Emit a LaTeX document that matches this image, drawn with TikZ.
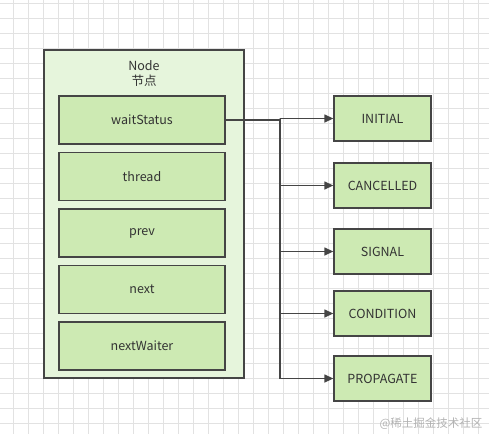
\documentclass[tikz,border=0pt]{standalone}
\usepackage{fontspec}
\setmainfont{Noto Sans CJK SC}
\usepackage{xcolor}
\usetikzlibrary{arrows.meta}

\definecolor{gridgray}{HTML}{E2E2E2}
\definecolor{outergreen}{HTML}{E6F5DC}
\definecolor{innergreen}{HTML}{CDEAB3}
\definecolor{edgegray}{HTML}{454545}
\definecolor{textgray}{HTML}{333333}

\tikzset{
    outerbox/.style={draw=edgegray, fill=outergreen, line width=1.3pt, minimum width=200pt, minimum height=328pt},
    fieldbox/.style={draw=edgegray, fill=innergreen, line width=1.3pt, minimum width=166pt, minimum height=48pt, text=textgray, font=\fontsize{12.5}{14}\selectfont},
    statebox/.style={draw=edgegray, fill=innergreen, line width=1.3pt, minimum width=97pt, minimum height=45pt, text=textgray, font=\fontsize{12.5}{14}\selectfont},
    link/.style={draw=edgegray, line width=1.3pt},
    arrowlink/.style={link, -{Triangle[length=9pt,width=8pt]}}
}

\begin{document}
\begin{tikzpicture}[x=1pt,y=-1pt]
    \useasboundingbox (0,0) rectangle (489,434);

    % background grid
    \foreach \x in {13.3,28.3,...,488} {
        \draw[gridgray, line width=0.6pt] (\x,0) -- (\x,434);
    }
    \foreach \y in {3.3,18.3,...,433} {
        \draw[gridgray, line width=0.6pt] (0,\y) -- (489,\y);
    }

    % Node box
    \node[outerbox] (node) at (144,214) {};
    \node[text=textgray, align=center, font=\fontsize{12.5}{15}\selectfont] (title) at (144,74) {Node\\节点};

    % fields
    \node[fieldbox] (waitStatus) at (142,120) {waitStatus};
    \node[fieldbox] (thread) at (142,176.5) {thread};
    \node[fieldbox] (prev) at (142,233) {prev};
    \node[fieldbox] (next) at (142,289.5) {next};
    \node[fieldbox] (nextWaiter) at (142,346) {nextWaiter};

    % states
    \node[statebox] (initial) at (382.5,118.5) {INITIAL};
    \node[statebox] (cancelled) at (382.5,185.5) {CANCELLED};
    \node[statebox] (signal) at (382.5,251.5) {SIGNAL};
    \node[statebox] (condition) at (382.5,313.5) {CONDITION};
    \node[statebox] (propagate) at (382.5,378.5) {PROPAGATE};

    % connectors
    \coordinate (join) at (280,120);
    \coordinate (trunkTop) at (280,118.5);
    \coordinate (trunkEnd) at (280,378.5);
    \draw[link] (waitStatus.east) -- (join);
    \draw[link] (join) -- (trunkTop) -- (trunkEnd);
    \foreach \s in {initial,cancelled,signal,condition,propagate} {
        \draw[arrowlink] (280,0 |- \s.west) -- (\s.west);
    }

    % watermark
    \node[text=black!30, font=\fontsize{11.5}{13}\selectfont, anchor=east] (mark) at (486,424) {@稀土掘金技术社区};
\end{tikzpicture}
\end{document}
